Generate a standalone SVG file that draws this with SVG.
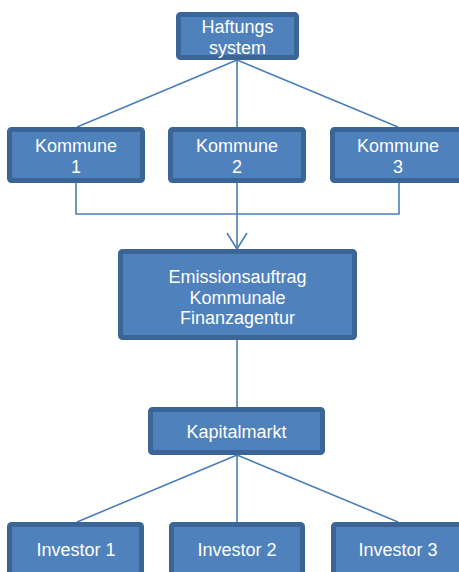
<svg xmlns="http://www.w3.org/2000/svg" width="459" height="572" viewBox="0 0 459 572">
<defs>
<style>
.box{fill:#4f81bd;stroke:#3b6596;stroke-width:5;}
.t{font-family:"Liberation Sans",Arial,sans-serif;font-size:18px;fill:#ffffff;text-anchor:middle;}
.c{fill:none;stroke:#4a7ebb;stroke-width:1.6;}
</style>
</defs>
<rect width="459" height="572" fill="#ffffff"/>
<g id="connectors">
<path class="c" d="M237,60 L77,127 M237,60 L237,127 M237,60 L398,127"/>
<path class="c" d="M76,183 V214 H399 V183 M237,183 V250"/>
<path class="c" d="M227,233 L237,249 L247,233"/>
<path class="c" d="M237,340 V407"/>
<path class="c" d="M237,455 L77,522 M237,455 L237,522 M237,455 L398,522"/>
</g>
<g id="haftungssystem">
<rect class="box" x="178.5" y="14.5" width="118" height="43" rx="2"/>
<text class="t" x="237.5" y="33">Haftungs</text>
<text class="t" x="237.5" y="54">system</text>
</g>
<g id="kommune1">
<rect class="box" x="9.5" y="129.5" width="133" height="51" rx="2"/>
<text class="t" x="76" y="152">Kommune</text>
<text class="t" x="76" y="173">1</text>
</g>
<g id="kommune2">
<rect class="box" x="170.5" y="129.5" width="133" height="51" rx="2"/>
<text class="t" x="237" y="152">Kommune</text>
<text class="t" x="237" y="173">2</text>
</g>
<g id="kommune3">
<rect class="box" x="332.5" y="129.5" width="133" height="51" rx="2"/>
<text class="t" x="398" y="152">Kommune</text>
<text class="t" x="398" y="173">3</text>
</g>
<g id="emission">
<rect class="box" x="120.5" y="251.5" width="234" height="86" rx="2"/>
<text class="t" x="237.5" y="283">Emissionsauftrag</text>
<text class="t" x="237.5" y="304">Kommunale</text>
<text class="t" x="237.5" y="324">Finanzagentur</text>
</g>
<g id="kapitalmarkt">
<rect class="box" x="150.5" y="409.5" width="172" height="43" rx="2"/>
<text class="t" x="236.5" y="438">Kapitalmarkt</text>
</g>
<g id="investor1">
<rect class="box" x="9.5" y="524.5" width="132" height="60" rx="2"/>
<text class="t" x="76" y="556">Investor 1</text>
</g>
<g id="investor2">
<rect class="box" x="171.5" y="524.5" width="131" height="60" rx="2"/>
<text class="t" x="237" y="556">Investor 2</text>
</g>
<g id="investor3">
<rect class="box" x="333.5" y="524.5" width="133" height="60" rx="2"/>
<text class="t" x="398" y="556">Investor 3</text>
</g>
</svg>
